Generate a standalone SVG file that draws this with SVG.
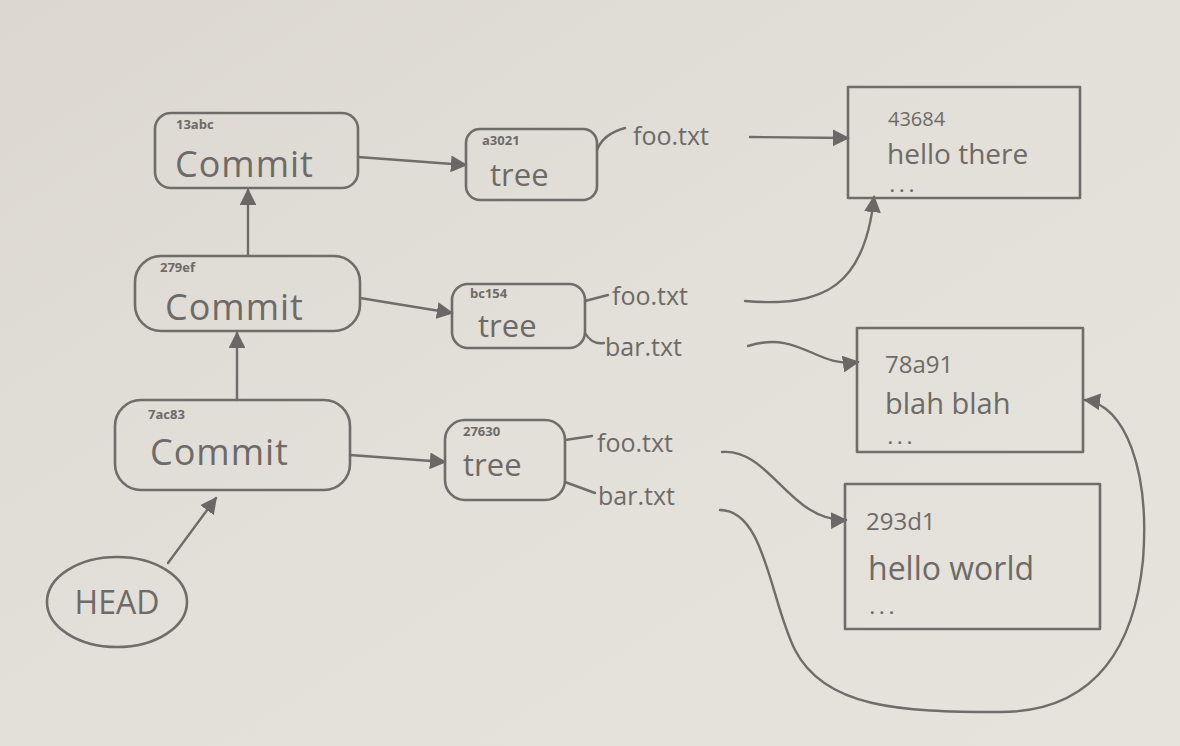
<svg xmlns="http://www.w3.org/2000/svg" width="1180" height="746" viewBox="0 0 1180 746">
<defs>
<linearGradient id="paper" x1="0" y1="0" x2="1" y2="1">
<stop offset="0" stop-color="#dcd8d1"/>
<stop offset="0.5" stop-color="#e3dfd9"/>
<stop offset="1" stop-color="#e6e2dc"/>
</linearGradient>
<marker id="arr" viewBox="0 0 10 10" refX="9" refY="5" markerWidth="7" markerHeight="7" orient="auto-start-reverse" markerUnits="strokeWidth">
<path d="M0,0 L10,5 L0,10 Z" fill="#6a6764"/>
</marker>
<style>
.box{fill:none;stroke:#6f6c69;stroke-width:2.6;stroke-linejoin:round}
.ln{fill:none;stroke:#6f6c69;stroke-width:2.4;stroke-linecap:round}
.t{font-family:"Open Sans","DejaVu Sans",sans-serif;fill:#6d6a67}
.big{font-size:36px;letter-spacing:1px}
.tr{font-size:31px}
.h{font-size:13px;font-weight:bold}
.lbl{font-size:25px}
.bh{font-size:24px}
.bt{font-size:29px}
.dots{font-size:16px;font-weight:bold;letter-spacing:5px}
</style>
</defs>
<rect x="0" y="0" width="1180" height="746" fill="url(#paper)"/>

<g id="connectors">
<path class="ln" d="M358,157 L466,165" marker-end="url(#arr)"/>
<path class="ln" d="M360,298 L452,313" marker-end="url(#arr)"/>
<path class="ln" d="M350,455 L445,462" marker-end="url(#arr)"/>
<path class="ln" d="M248,255 L248,190" marker-end="url(#arr)"/>
<path class="ln" d="M237,400 L237,333" marker-end="url(#arr)"/>
<path class="ln" d="M168,563 L216,498" marker-end="url(#arr)"/>
<path class="ln" d="M597,150 Q603,134 625,128"/>
<path class="ln" d="M750,137 L848,138" marker-end="url(#arr)"/>
<path class="ln" d="M585,301 L608,295"/>
<path class="ln" d="M745,301 C825,308 865,285 874,197" marker-end="url(#arr)"/>
<path class="ln" d="M585,333 Q592,345 604,343"/>
<path class="ln" d="M748,346 C800,330 815,368 858,362" marker-end="url(#arr)"/>
<path class="ln" d="M565,440 L592,436"/>
<path class="ln" d="M722,452 C770,448 790,522 846,520" marker-end="url(#arr)"/>
<path class="ln" d="M565,482 L595,493"/>
<path class="ln" d="M720,510 C765,510 770,600 795,650 C825,708 900,712 1000,712 C1100,712 1135,640 1143,560 C1150,470 1125,405 1085,400" marker-end="url(#arr)"/>
</g>

<g id="commit-13abc">
<rect class="box" x="155" y="113" width="203" height="75" rx="16"/>
<text class="t h" x="176" y="129">13abc</text>
<text class="t big" x="175" y="177">Commit</text>
</g>
<g id="commit-279ef">
<rect class="box" x="135" y="256" width="225" height="75" rx="26"/>
<text class="t h" x="160" y="272">279ef</text>
<text class="t big" x="165" y="320">Commit</text>
</g>
<g id="commit-7ac83">
<rect class="box" x="115" y="400" width="235" height="90" rx="26"/>
<text class="t h" x="148" y="419">7ac83</text>
<text class="t big" x="150" y="465">Commit</text>
</g>

<g id="tree-a3021">
<rect class="box" x="466" y="129" width="131" height="71" rx="14"/>
<text class="t h" x="482" y="145">a3021</text>
<text class="t tr" x="490" y="186">tree</text>
</g>
<g id="tree-bc154">
<rect class="box" x="452" y="284" width="133" height="64" rx="16"/>
<text class="t h" x="470" y="298">bc154</text>
<text class="t tr" x="478" y="337">tree</text>
</g>
<g id="tree-27630">
<rect class="box" x="445" y="420" width="120" height="80" rx="20"/>
<text class="t h" x="463" y="436">27630</text>
<text class="t tr" x="463" y="476">tree</text>
</g>

<g id="label-foo-1"><text class="t lbl" x="633" y="145">foo.txt</text></g>
<g id="label-foo-2"><text class="t lbl" x="612" y="305">foo.txt</text></g>
<g id="label-bar-2"><text class="t lbl" x="605" y="356">bar.txt</text></g>
<g id="label-foo-3"><text class="t lbl" x="597" y="452">foo.txt</text></g>
<g id="label-bar-3"><text class="t lbl" x="598" y="505">bar.txt</text></g>

<g id="blob-43684">
<rect class="box" x="848" y="87" width="232" height="111"/>
<text class="t" style="font-size:20px" x="888" y="126">43684</text>
<text class="t" style="font-size:28px" x="887" y="164">hello there</text>
<text class="t dots" x="890" y="192">...</text>
</g>
<g id="blob-78a91">
<rect class="box" x="857" y="328" width="226" height="124"/>
<text class="t bh" x="885" y="373">78a91</text>
<text class="t bt" x="885" y="414">blah blah</text>
<text class="t dots" x="888" y="444">...</text>
</g>
<g id="blob-293d1">
<rect class="box" x="845" y="484" width="255" height="145"/>
<text class="t bh" x="866" y="530">293d1</text>
<text class="t" style="font-size:32px" x="868" y="580">hello world</text>
<text class="t dots" x="870" y="614">...</text>
</g>

<g id="head">
<ellipse class="box" cx="117" cy="602" rx="70" ry="45"/>
<text class="t" style="font-size:32px" x="117" y="614" text-anchor="middle">HEAD</text>
</g>
</svg>
